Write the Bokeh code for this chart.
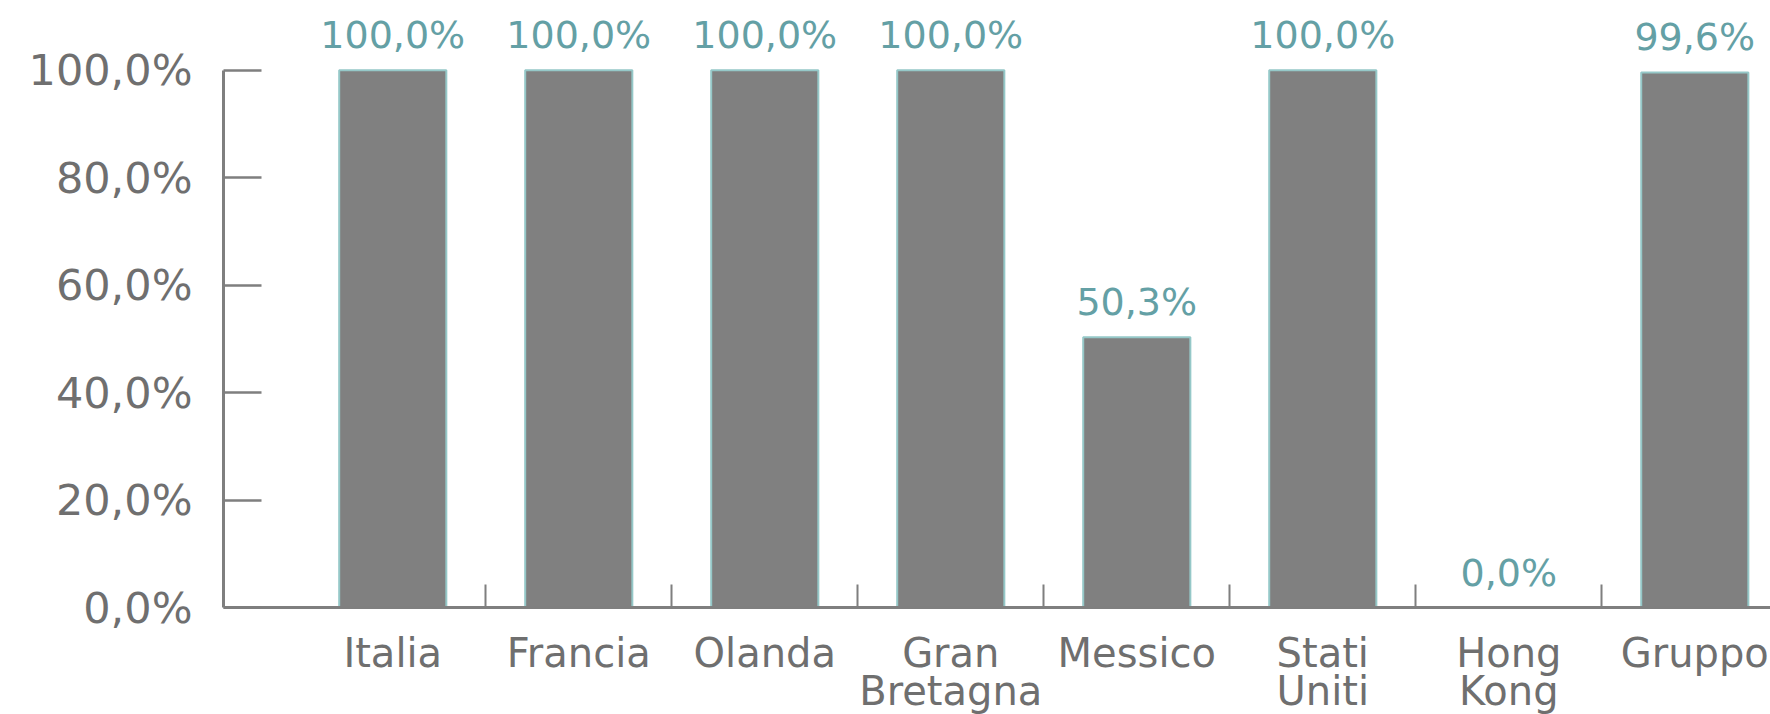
from bokeh.plotting import figure
from bokeh.models import ColumnDataSource, FixedTicker, Range1d
from bokeh.core.properties import value
from bokeh.embed import file_html
from bokeh.resources import INLINE

# ---- data ----
categories = ["Italia", "Francia", "Olanda", "Gran\nBretagna", "Messico",
              "Stati\nUniti", "Hong\nKong", "Gruppo"]
values = [100.0, 100.0, 100.0, 100.0, 50.3, 100.0, 0.0, 99.6]
y_ticks = [0, 20, 40, 60, 80, 100]
y_tick_labels = ["0,0%", "20,0%", "40,0%", "60,0%", "80,0%", "100,0%"]

def fmt(v):
    return f"{v:.1f}%".replace(".", ",")

positions = list(range(len(categories)))
src = ColumnDataSource(dict(
    x=positions,
    top=values,
    label=[fmt(v) for v in values],
))

FONT = "DejaVu Sans"
GREY = "#7f7f7f"
TEXT = "#6f6f6f"
TEAL = "#64a0a5"

p = figure(frame_width=1547, frame_height=607, output_backend="svg",
           toolbar_location=None,
           x_range=Range1d(-0.91, 7.407), y_range=Range1d(0, 113.0),
           min_border_left=223, min_border_right=0, min_border_top=0,
           min_border_bottom=0)
p.outline_line_color = None
p.background_fill_color = "white"
p.border_fill_color = "white"
p.xgrid.visible = False
p.ygrid.visible = False

p.vbar(x="x", top="top", width=0.576, bottom=0, source=src,
       fill_color="#808080", line_color="#95c8c8", line_width=2)

p.text(x="x", y="top", text="label", source=src,
       text_align="center", text_baseline="bottom", y_offset=-13,
       text_font=value(FONT), text_font_size="38px", text_color=TEAL)

# y axis
ya = p.yaxis[0]
ya.ticker = FixedTicker(ticks=y_ticks, minor_ticks=[])
ya.major_label_overrides = {t: l for t, l in zip(y_ticks, y_tick_labels)}
ya.bounds = (0, 100)
ya.axis_line_color = GREY
ya.axis_line_width = 3
ya.major_tick_line_color = GREY
ya.major_tick_line_width = 2.5
ya.major_tick_in = 38
ya.major_tick_out = 0
ya.minor_tick_line_color = None
ya.major_label_standoff = 31
ya.major_label_text_font = FONT
ya.major_label_text_font_size = "43px"
ya.major_label_text_color = TEXT

# x axis
xa = p.xaxis[0]
xa.ticker = FixedTicker(ticks=positions,
                        minor_ticks=[i + 0.5 for i in positions[:-1]])
xa.major_label_overrides = {i: c for i, c in zip(positions, categories)}
xa.axis_line_color = GREY
xa.axis_line_width = 3
xa.major_tick_line_color = None
xa.major_tick_in = 0
xa.major_tick_out = 0
xa.minor_tick_line_color = GREY
xa.minor_tick_line_width = 2
xa.minor_tick_in = 23
xa.minor_tick_out = 0
xa.major_label_standoff = 22
xa.major_label_text_font = FONT
xa.major_label_text_font_size = "40px"
xa.major_label_text_color = TEXT
xa.major_label_text_line_height = 0.83

open("out.html", "w").write(file_html(p, INLINE))
